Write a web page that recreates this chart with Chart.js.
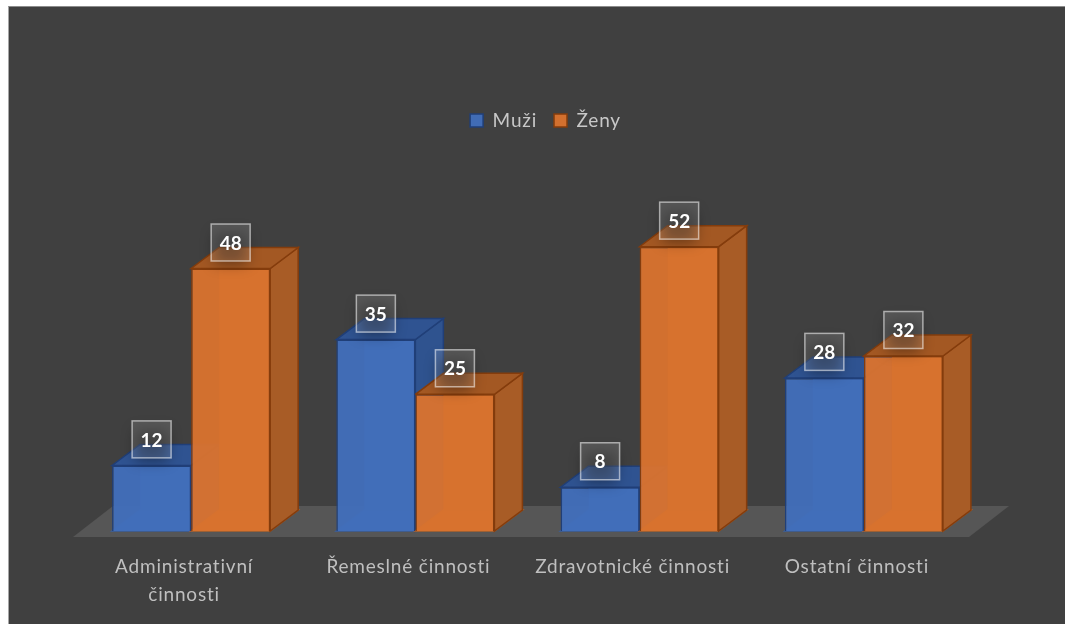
<!DOCTYPE html>
<html>
<head>
<meta charset="utf-8">
<script src="https://cdn.jsdelivr.net/npm/chart.js@4"></script>
<style>
html, body { margin: 0; padding: 0; background: #fff; overflow: hidden; }
#box { position: absolute; left: 8px; top: 6px; width: 1057px; height: 618px; background: #404040;
  border-left: 1px solid #a6a6a6; border-top: 1px solid #8c8c8c; box-sizing: border-box; }
</style>
</head>
<body>
<div id="box"><canvas id="chart"></canvas></div>
<script>
const categories = [['Administrativní', 'činnosti'], 'Řemeslné činnosti', 'Zdravotnické činnosti', 'Ostatní činnosti'];
const muzi = [12, 35, 8, 28];
const zeny = [48, 25, 52, 32];

const DX = 28, DY = 21;
const FONT = 'Lato, Carlito, sans-serif';

const looks = [
  { back: '#3a5f9e', bottom: '#3f68ad', side: '#2f538f', top: '#2f5391', line: '#203f78' },
  { back: '#b5642a', bottom: '#c06a2b', side: '#a85c26', top: '#a35823', line: '#843c0c' }
];

function poly(ctx, pts, fill, stroke) {
  ctx.beginPath();
  pts.forEach((p, i) => i ? ctx.lineTo(p[0], p[1]) : ctx.moveTo(p[0], p[1]));
  ctx.closePath();
  if (fill) { ctx.fillStyle = fill; ctx.fill(); }
  if (stroke) { ctx.strokeStyle = stroke; ctx.lineWidth = 1.5; ctx.stroke(); }
}

// fake 3D: floor first, then side and top faces, the library draws the fronts on top
const box3d = {
  id: 'box3d',
  beforeLayout(chart) { chart.ctx.letterSpacing = '0.8px'; },
  afterLayout(chart) {
    // legend sits right of the centre in the original
    chart.legend.left += 18;
    chart.legend.right += 18;
  },
  beforeDraw(chart) { chart.ctx.letterSpacing = '0.8px'; },
  beforeDatasetsDraw(chart) {
    const ctx = chart.ctx, area = chart.chartArea, y0 = chart.scales.y.getPixelForValue(0);
    poly(ctx, [[area.left - 6, y0 + 6], [area.right - 7, y0 + 6], [area.right + 33, y0 - 25], [area.left + 34, y0 - 25]], '#565656');
    looks.forEach((look, i) => {
      chart.getDatasetMeta(i).data.forEach(bar => {
        const l = bar.x - bar.width / 2, r = bar.x + bar.width / 2, t = bar.y, b = bar.base;
        poly(ctx, [[l, b], [r, b], [r + DX, b - DY], [l + DX, b - DY]], look.bottom, look.back);
        poly(ctx, [[l + DX, t - DY], [l + DX, b - DY], [r + DX, b - DY], [r + DX, t - DY]], look.back);
        poly(ctx, [[r, t], [r + DX, t - DY], [r + DX, b - DY], [r, b]], look.side, look.line);
        poly(ctx, [[l, t], [r, t], [r + DX, t - DY], [l + DX, t - DY]], look.top, look.line);
      });
    });
  },
  afterDatasetsDraw(chart) {
    const ctx = chart.ctx;
    chart.data.datasets.forEach((ds, i) => {
      chart.getDatasetMeta(i).data.forEach((bar, j) => {
        const cx = bar.x, cy = bar.y - 26, w = 39, h = 37;
        ctx.save();
        ctx.letterSpacing = '0px';
        // shadow only: rect is off the canvas, its shadow is thrown back
        ctx.save();
        ctx.shadowColor = 'rgba(0,0,0,0.38)';
        ctx.shadowBlur = 14;
        ctx.shadowOffsetX = 3000;
        ctx.shadowOffsetY = 6;
        ctx.fillStyle = '#000';
        ctx.fillRect(cx - w / 2 - 3000 + 3, cy - h / 2 + 3, w - 6, h - 6);
        ctx.restore();
        ctx.fillStyle = 'rgba(255,255,255,0.12)';
        ctx.fillRect(cx - w / 2, cy - h / 2, w, h);
        ctx.strokeStyle = 'rgba(255,255,255,0.55)';
        ctx.lineWidth = 1.5;
        ctx.strokeRect(cx - w / 2, cy - h / 2, w, h);
        ctx.fillStyle = '#fff';
        ctx.font = 'bold 19px ' + FONT;
        ctx.textAlign = 'center';
        ctx.textBaseline = 'middle';
        ctx.fillText(ds.data[j], cx, cy + 1);
        ctx.restore();
      });
    });
  }
};

new Chart(document.getElementById('chart'), {
  type: 'bar',
  data: {
    labels: categories,
    datasets: [
      { label: 'Muži', data: muzi, backgroundColor: 'rgba(66,110,186,0.96)', borderColor: '#203f78', borderWidth: 1.5 },
      { label: 'Ženy', data: zeny, backgroundColor: 'rgba(216,114,47,0.96)', borderColor: '#843c0c', borderWidth: 1.5 }
    ]
  },
  options: {
    responsive: true,
    maintainAspectRatio: false,
    animation: false,
    datasets: { bar: { categoryPercentage: 0.705, barPercentage: 1 } },
    layout: { padding: { left: 70, right: 89, top: 87, bottom: 0 } },
    plugins: {
      tooltip: { enabled: false },
      legend: {
        position: 'top',
        labels: {
          color: '#c8c8c8',
          boxWidth: 13,
          boxHeight: 13,
          padding: 17,
          font: { family: FONT, size: 19 }
        }
      }
    },
    scales: {
      x: {
        grid: { display: false },
        border: { display: false },
        afterFit(scale) { scale.height = 93; },
        ticks: { color: '#bfbfbf', font: { family: FONT, size: 19, lineHeight: 1.47 }, padding: 14, labelOffset: -7, maxRotation: 0, autoSkip: false }
      },
      y: { display: false, min: 0, max: 71.5 }
    }
  },
  plugins: [box3d]
});
</script>
</body>
</html>
